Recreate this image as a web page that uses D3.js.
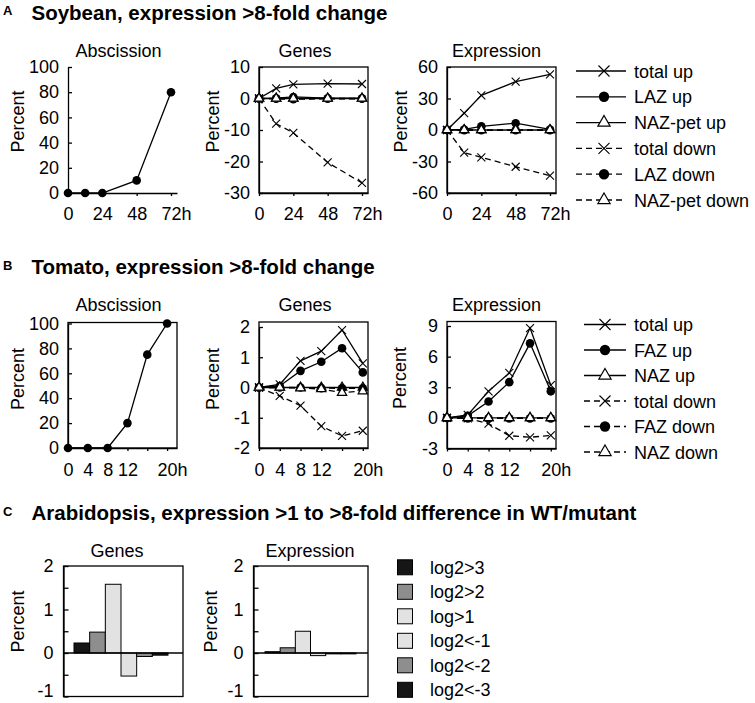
<!DOCTYPE html>
<html><head><meta charset="utf-8">
<script src="https://cdn.jsdelivr.net/npm/d3@7"></script>
<style>
body{margin:0;background:#fff}
svg{display:block}
text{font-family:"Liberation Sans",Arial,sans-serif;fill:#000}
</style>
</head><body>
<svg id="chart" width="755" height="703"></svg>
<script>
// ---------------- DATA ----------------
// Panel A: Soybean
const soyTimes = [0, 12, 24, 48, 72];
const soyTickTimes = [0, 24, 48, 72];
const soyAbscission = [0, 0, 0, 10, 80];
const soyGenesTotalUp   = [0, 3.2, 4.5, 4.7, 4.6];
const soyGenesLAZUp     = [0, 0.1, 0.5, 0.1, 0.1];
const soyGenesNAZUp     = [0, 0, 0, 0, 0];
const soyGenesTotalDown = [0, -8.0, -10.9, -20.3, -26.8];
const soyGenesLAZDown   = [0, -0.1, -0.2, -0.1, -0.1];
const soyGenesNAZDown   = [0, 0, 0, 0, 0];
const soyExprTotalUp    = [0, 16, 33, 46, 53];
const soyExprLAZUp      = [0, 0.5, 3.5, 6.5, 0.5];
const soyExprNAZUp      = [0, 0, 0, 0, 0];
const soyExprTotalDown  = [0, -21.5, -26, -35, -43.5];
const soyExprLAZDown    = [0, -0.2, -0.3, -0.3, -0.2];
const soyExprNAZDown    = [0, 0, 0, 0, 0];
const soyLegend = ["total up", "LAZ up", "NAZ-pet up", "total down", "LAZ down", "NAZ-pet down"];
const soyAbsTicks = [0, 20, 40, 60, 80, 100];
const soyGenesTicks = [-30, -20, -10, 0, 10];
const soyExprTicks = [-60, -30, 0, 30, 60];

// Panel B: Tomato
const tomTimes = [0, 4, 8, 12, 16, 20];
const tomTickLabels = ["0", "4", "8", "12", "", "20"];
const tomAbscission = [0, 0, 0, 20, 75, 100];
const tomGenesTotalUp   = [0, 0.1, 0.88, 1.2, 1.9, 0.8];
const tomGenesFAZUp     = [0, 0.05, 0.55, 0.85, 1.3, 0.5];
const tomGenesNAZUp     = [0, 0, 0, 0, 0, 0];
const tomGenesTotalDown = [0, -0.28, -0.6, -1.28, -1.6, -1.43];
const tomGenesFAZDown   = [0, 0, 0, -0.02, -0.03, -0.03];
const tomGenesNAZDown   = [0, 0, -0.02, -0.05, -0.17, -0.12];
const tomExprTotalUp    = [0, 0.3, 2.6, 4.4, 8.8, 3.2];
const tomExprFAZUp      = [0, 0.2, 1.6, 3.5, 7.3, 2.6];
const tomExprNAZUp      = [0, 0, 0, 0, 0, 0];
const tomExprTotalDown  = [0, -0.05, -0.57, -1.75, -1.9, -1.72];
const tomExprFAZDown    = [0, -0.05, -0.05, -0.05, -0.05, -0.05];
const tomExprNAZDown    = [0, 0, 0, 0, 0, 0];
const tomLegend = ["total up", "FAZ up", "NAZ up", "total down", "FAZ down", "NAZ down"];
const tomAbsTicks = [0, 20, 40, 60, 80, 100];
const tomGenesTicks = [-2, -1, 0, 1, 2];
const tomExprTicks = [-3, 0, 3, 6, 9];

// Panel C: Arabidopsis
const araCategories = ["log2>3", "log2>2", "log>1", "log2<-1", "log2<-2", "log2<-3"];
const araGenes      = [0.23, 0.48, 1.58, -0.53, -0.08, -0.05];
const araExpression = [0.03, 0.12, 0.5, -0.06, -0.02, -0.02];
const araTicks = [-1, -0.5, 0, 0.5, 1, 1.5, 2];

// ---------------- STYLES ----------------
const FONT = 18;
const markerKinds = ["x", "circle", "triangle", "x", "circle", "triangle"];
const dashKinds = [false, false, false, true, true, true];
const barFill = ["#161616", "#8e8e8e", "#e2e2e2", "#e2e2e2", "#8e8e8e", "#161616"];
const DASH = "6,4";

const svg = d3.select("#chart");
svg.append("rect").attr("width", 755).attr("height", 703).attr("fill", "#fff");

function drawMarker(g, kind, cx, cy, s) {
  if (kind === "x") {
    g.append("path").attr("d", `M${cx - s},${cy - s}L${cx + s},${cy + s}M${cx - s},${cy + s}L${cx + s},${cy - s}`)
      .attr("stroke", "#000").attr("stroke-width", 1.1).attr("fill", "none");
  } else if (kind === "circle") {
    g.append("circle").attr("cx", cx).attr("cy", cy).attr("r", s).attr("fill", "#000");
  } else {
    const h = s * 1.8 * 0.866, w = s * 1.8;
    g.append("path").attr("d", `M${cx},${cy - h * 2 / 3}L${cx + w / 2},${cy + h / 3}L${cx - w / 2},${cy + h / 3}Z`)
      .attr("fill", "#fff").attr("stroke", "#000").attr("stroke-width", 1.2);
  }
}

function styleAxis(ax) {
  ax.attr("font-family", null).attr("font-size", null);
  ax.selectAll("text").style("font-size", FONT + "px").attr("fill", "#000");
  ax.selectAll("line,path").attr("stroke", "#000").attr("stroke-width", 1.3);
}

function title(x, y, txt, anchor) {
  svg.append("text").attr("x", x).attr("y", y).attr("text-anchor", anchor || "middle")
    .style("font-size", FONT + "px").text(txt);
}
function yTitle(x, y) {
  svg.append("text").attr("transform", `translate(${x},${y}) rotate(-90)`).attr("text-anchor", "middle")
    .style("font-size", FONT + "px").text("Percent");
}

function linePanel(o) {
  const g = svg.append("g");
  const x = d3.scaleLinear().domain(o.xd).range(o.xr);
  const y = d3.scaleLinear().domain(o.yd).range(o.yr);
  if (o.box) {
    g.append("rect").attr("x", o.xr[0]).attr("y", o.boxTop).attr("width", o.xr[1] - o.xr[0])
      .attr("height", o.yr[0] - o.boxTop).attr("fill", "none").attr("stroke", "#000").attr("stroke-width", 1.3);
  }
  const ya = g.append("g").attr("transform", `translate(${o.xr[0]},0)`)
    .call(d3.axisLeft(y).tickValues(o.yt).tickSizeInner(-4).tickSizeOuter(0).tickPadding(9).tickFormat(d => String(d)));
  styleAxis(ya);
  const xa = g.append("g").attr("transform", `translate(0,${o.yr[0]})`)
    .call(d3.axisBottom(x).tickValues(o.xt).tickSizeInner(3).tickSizeOuter(0).tickPadding(o.xpad)
      .tickFormat((d, i) => o.xl[i]));
  styleAxis(xa);
  const lastLab = xa.selectAll(".tick text").filter((d, i, n) => i === n.length - 1);
  lastLab.text(null);
  lastLab.append("tspan").text(o.xl[o.xl.length - 1]);
  lastLab.append("tspan").text("h");
  lastLab.attr("dx", 5);

  o.series.forEach((vals, si) => {
    const line = d3.line().x((d, i) => x(o.times[i])).y(d => y(d));
    g.append("path").datum(vals).attr("d", line).attr("fill", "none").attr("stroke", "#000")
      .attr("stroke-width", 1.3).attr("stroke-dasharray", o.dash[si] ? DASH : null);
  });
  o.series.forEach((vals, si) => {
    vals.forEach((v, i) => drawMarker(g, o.markers[si], x(o.times[i]), y(v), o.markers[si] === "x" ? 4 : (o.markers[si] === "circle" ? 4.3 : 5.2)));
  });
}

function legend(x0, y0, step, labels, lineX0, lineX1, markX, textX) {
  labels.forEach((lab, i) => {
    const y = y0 + i * step;
    const g = svg.append("g");
    g.append("line").attr("x1", lineX0).attr("x2", lineX1).attr("y1", y).attr("y2", y)
      .attr("stroke", "#000").attr("stroke-width", 1.3).attr("stroke-dasharray", dashKinds[i] ? DASH : null);
    drawMarker(g, markerKinds[i], markX, y, markerKinds[i] === "x" ? 5.5 : (markerKinds[i] === "circle" ? 5.2 : 6.8));
    g.append("text").attr("x", textX).attr("y", y + 6.5).style("font-size", FONT + "px").text(lab);
  });
}

function sectionTitle(letter, txt, y) {
  svg.append("text").attr("x", 3).attr("y", y - 4.5).style("font-size", "13px").style("font-weight", "bold").text(letter);
  svg.append("text").attr("x", 31.5).attr("y", y).style("font-size", "20.5px").style("font-weight", "bold").text(txt);
}

// ---------------- PANEL A ----------------
sectionTitle("A", "Soybean, expression >8-fold change", 19.5);
title(118.5, 56.5, "Abscission");
title(305, 56.5, "Genes");
title(496.5, 56.5, "Expression");
yTitle(23.5, 121.5); yTitle(218.5, 121.5); yTitle(406.5, 121.5);

const soyXd = [0, 76.2];
const soyXl = soyTickTimes.map(String);
linePanel({box: false, xd: soyXd, xr: [68, 177], yd: [0, 100], yr: [193, 67], yt: soyAbsTicks,
  xt: soyTickTimes, xl: soyXl, xpad: 11, times: soyTimes,
  series: [soyAbscission], markers: ["circle"], dash: [false]});
linePanel({box: true, boxTop: 67, xd: soyXd, xr: [259, 368], yd: [-30, 10], yr: [193, 67], yt: soyGenesTicks,
  xt: soyTickTimes, xl: soyXl, xpad: 11, times: soyTimes,
  series: [soyGenesTotalUp, soyGenesLAZUp, soyGenesNAZUp, soyGenesTotalDown, soyGenesLAZDown, soyGenesNAZDown],
  markers: markerKinds, dash: dashKinds});
linePanel({box: true, boxTop: 67, xd: soyXd, xr: [447, 556], yd: [-60, 60], yr: [193, 67], yt: soyExprTicks,
  xt: soyTickTimes, xl: soyXl, xpad: 11, times: soyTimes,
  series: [soyExprTotalUp, soyExprLAZUp, soyExprNAZUp, soyExprTotalDown, soyExprLAZDown, soyExprNAZDown],
  markers: markerKinds, dash: dashKinds});
legend(0, 71, 25.8, soyLegend, 576, 626, 604, 634);

// ---------------- PANEL B ----------------
sectionTitle("B", "Tomato, expression >8-fold change", 274);
title(118.5, 310.5, "Abscission");
title(305, 310.5, "Genes");
title(496.5, 310.5, "Expression");
yTitle(23.5, 379); yTitle(218.5, 379); yTitle(405.5, 378);

linePanel({box: true, boxTop: 322.5, xd: [0, 22], xr: [68, 177], yd: [0, 100], yr: [448, 323.5], yt: tomAbsTicks,
  xt: tomTimes, xl: tomTickLabels, xpad: 12, times: tomTimes,
  series: [tomAbscission], markers: ["circle"], dash: [false]});
linePanel({box: true, boxTop: 322, xd: [0, 21], xr: [259, 368], yd: [-2, 2], yr: [448, 327], yt: tomGenesTicks,
  xt: tomTimes, xl: tomTickLabels, xpad: 12, times: tomTimes,
  series: [tomGenesTotalUp, tomGenesFAZUp, tomGenesNAZUp, tomGenesTotalDown, tomGenesFAZDown, tomGenesNAZDown],
  markers: markerKinds, dash: dashKinds});
linePanel({box: true, boxTop: 321.5, xd: [0, 21], xr: [447, 556], yd: [-3, 9], yr: [448.5, 326], yt: tomExprTicks,
  xt: tomTimes, xl: tomTickLabels, xpad: 12, times: tomTimes,
  series: [tomExprTotalUp, tomExprFAZUp, tomExprNAZUp, tomExprTotalDown, tomExprFAZDown, tomExprNAZDown],
  markers: markerKinds, dash: dashKinds});
legend(0, 324.5, 25.5, tomLegend, 584, 626, 605, 634);

// ---------------- PANEL C ----------------
sectionTitle("C", "Arabidopsis, expression >1 to >8-fold difference in WT/mutant", 520);
title(117, 556.5, "Genes");
title(310, 556.5, "Expression");
yTitle(23.5, 621.5); yTitle(217, 621.5);

function barPanel(vals, boxX, barRange) {
  const g = svg.append("g");
  const y = d3.scaleLinear().domain([-1, 2]).range([696.5, 566]);
  const x = d3.scaleBand().domain(araCategories).range(barRange).paddingInner(0);
  g.append("rect").attr("x", boxX[0]).attr("y", 566).attr("width", boxX[1] - boxX[0]).attr("height", 696.5 - 566)
    .attr("fill", "none").attr("stroke", "#000").attr("stroke-width", 1.3);
  const ya = g.append("g").attr("transform", `translate(${boxX[0]},0)`)
    .call(d3.axisLeft(y).tickValues(araTicks).tickSizeInner(-5).tickSizeOuter(0).tickPadding(10)
      .tickFormat(d => Number.isInteger(d) ? String(d) : ""));
  styleAxis(ya);
  // keep the bottom label inside the picture, as in the reference
  ya.selectAll(".tick text").filter(d => d === -1).attr("transform", "translate(0,-6)");
  g.selectAll("rect.bar").data(vals).enter().append("rect").attr("class", "bar")
    .attr("x", (d, i) => x(araCategories[i])).attr("width", x.bandwidth())
    .attr("y", d => y(Math.max(0, d))).attr("height", d => Math.abs(y(d) - y(0)))
    .attr("fill", (d, i) => barFill[i]).attr("stroke", "#000").attr("stroke-width", 1);
  g.append("line").attr("x1", boxX[0]).attr("x2", boxX[1]).attr("y1", y(0)).attr("y2", y(0))
    .attr("stroke", "#000").attr("stroke-width", 1.3);
}
barPanel(araGenes, [63.5, 183], [74, 168]);
barPanel(araExpression, [253.5, 368], [265, 356]);

araCategories.forEach((c, i) => {
  const yy = 567.3 + i * 24.5;
  svg.append("rect").attr("x", 397.5).attr("y", yy - 7.5).attr("width", 15).attr("height", 15)
    .attr("fill", barFill[i]).attr("stroke", "#000").attr("stroke-width", 1);
  svg.append("text").attr("x", 430).attr("y", yy + 6.5).style("font-size", FONT + "px").text(c);
});
</script>
</body></html>
